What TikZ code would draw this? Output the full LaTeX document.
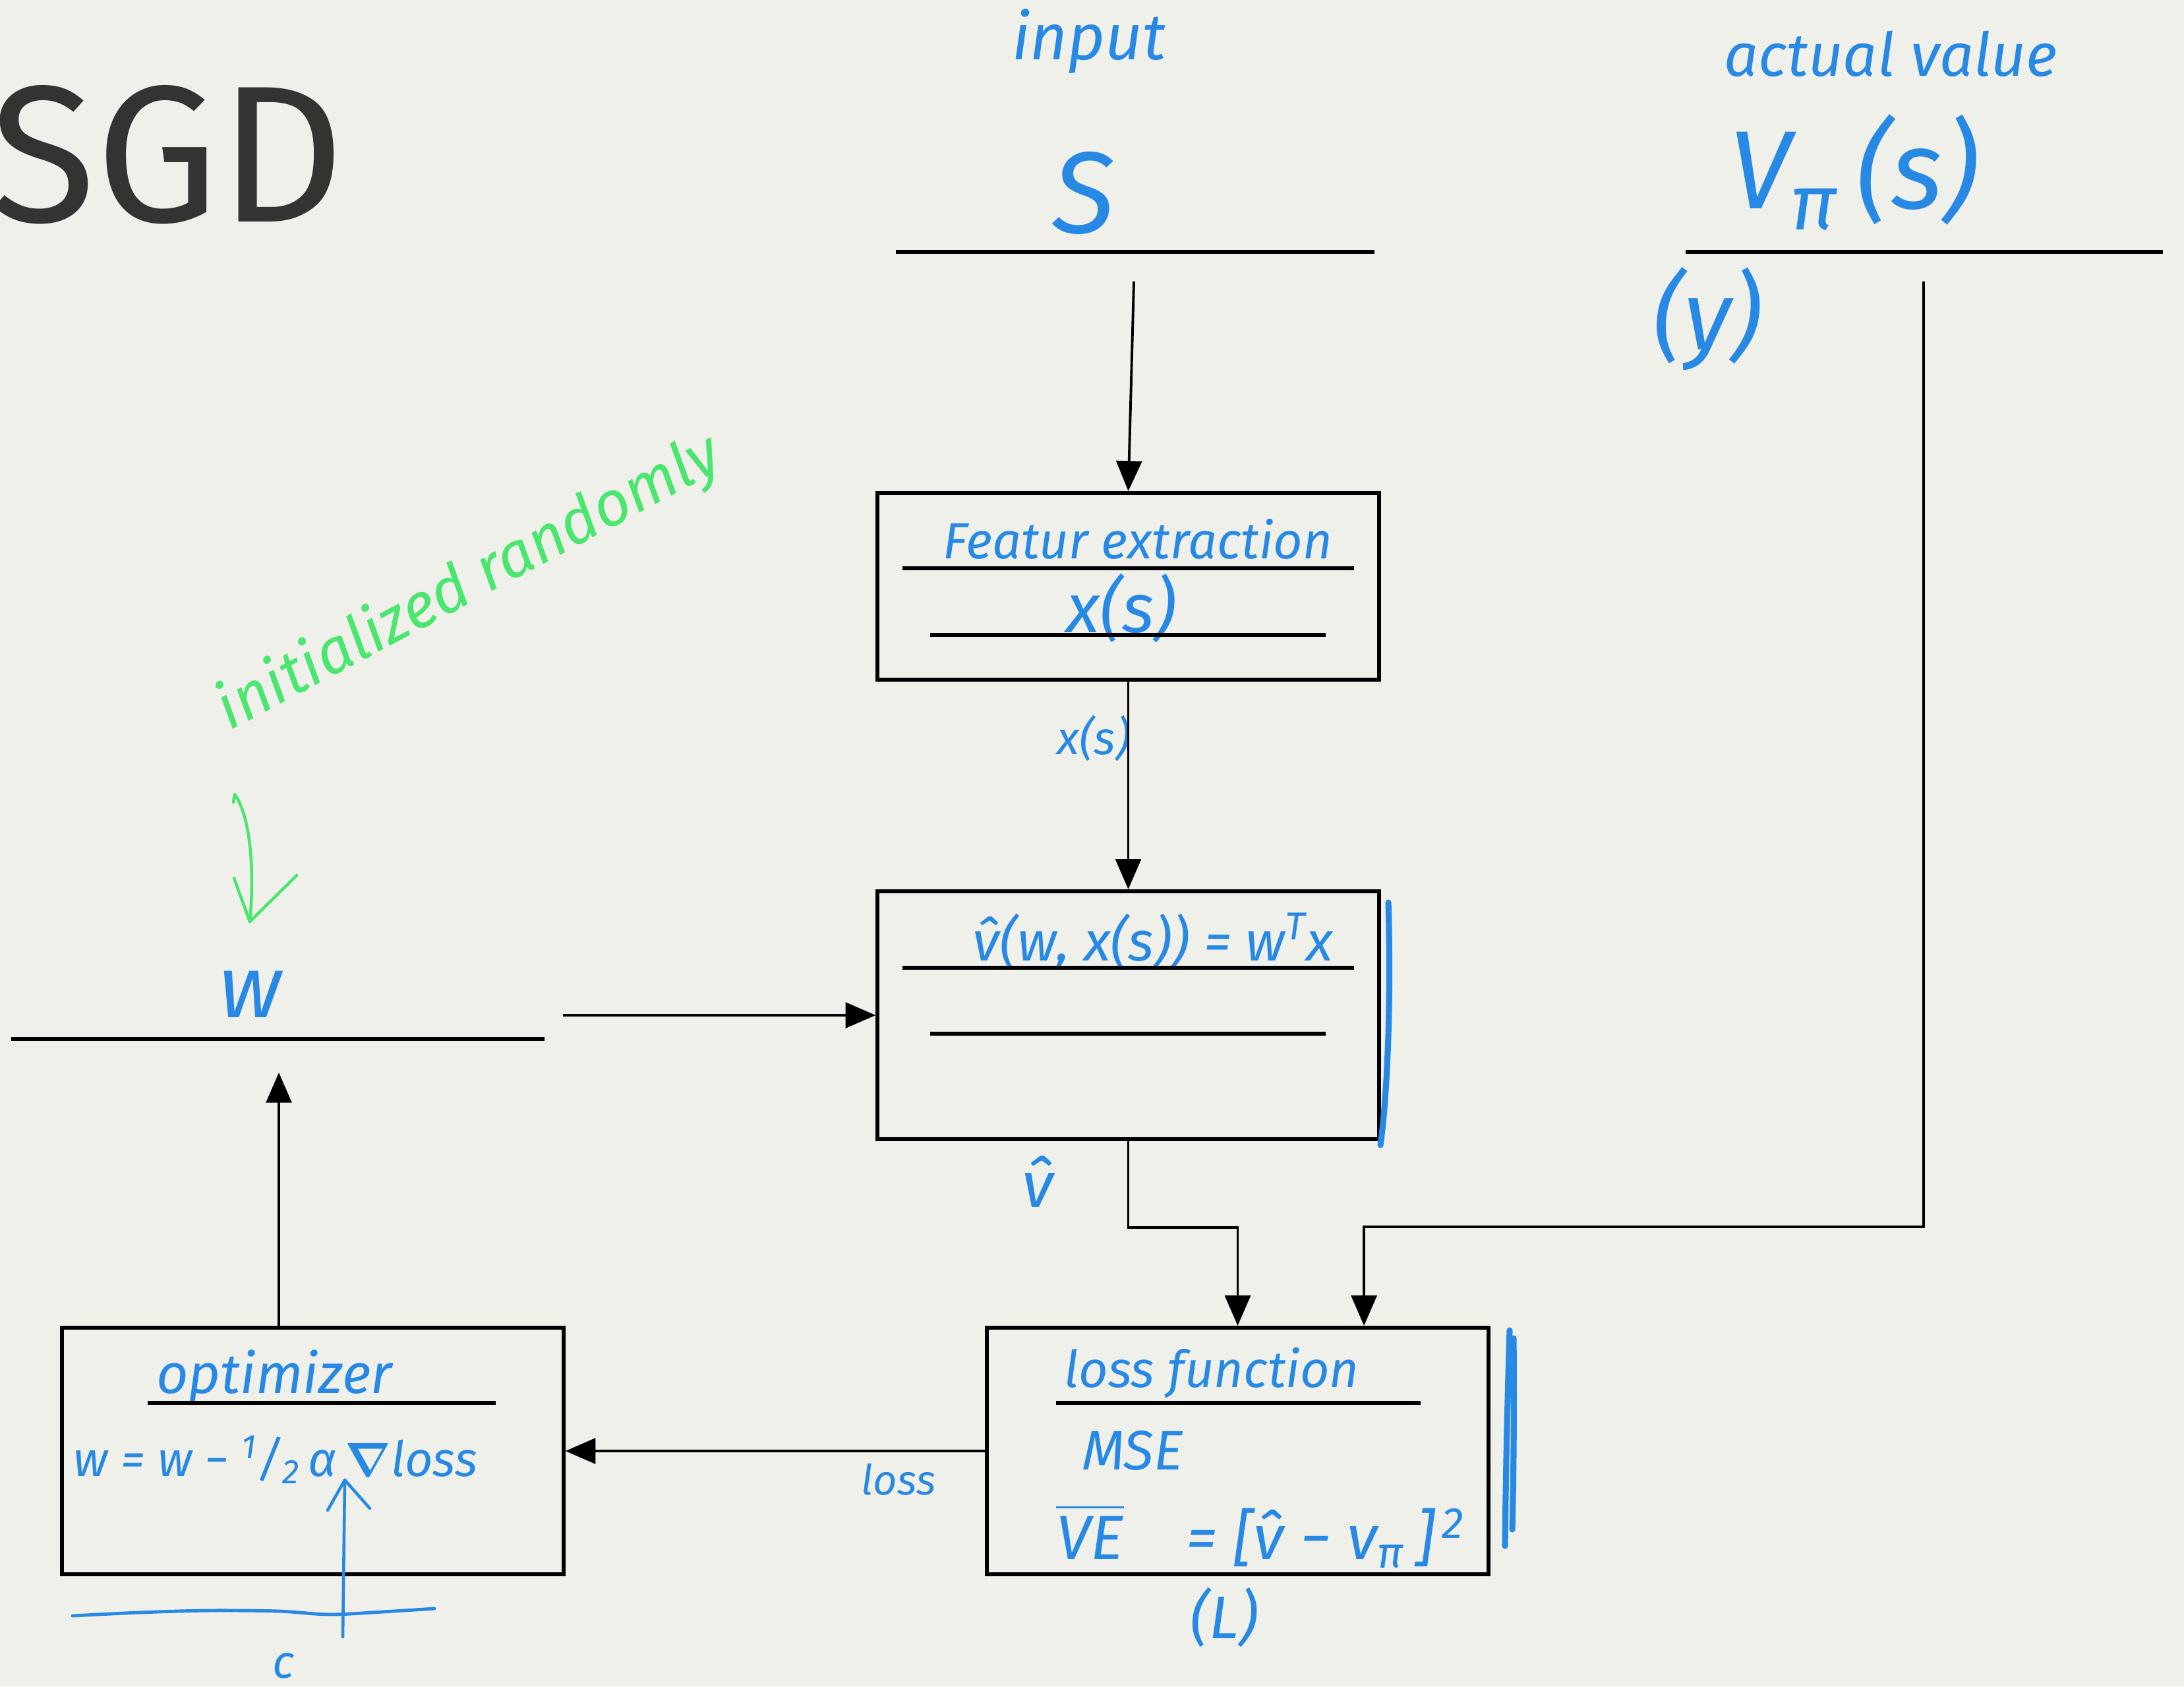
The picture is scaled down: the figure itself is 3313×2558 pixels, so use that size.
\documentclass[tikz,border=0pt]{standalone}
\usepackage{amsfonts, amssymb, amsmath}
\usepackage{fontspec}
\usepackage{xcolor}
\usepackage{tikz}
\usetikzlibrary{arrows.meta,calc}

\newfontfamily\hand{Fira Sans}
\newfontfamily\titlefont{Fira Sans}
\newcommand{\sz}[1]{\fontsize{#1}{#1}\selectfont}

\definecolor{paper}{RGB}{239,240,234}
\definecolor{pen}{RGB}{40,137,228}
\definecolor{marker}{RGB}{74,230,112}
\definecolor{ink}{RGB}{51,51,51}

\begin{document}
\begin{tikzpicture}[x=0.01cm,y=-0.01cm,
        box/.style={draw, line width=1.7pt, minimum width=7.6cm, minimum height=3.74cm, inner sep=0pt},
        conn/.style={line width=1.1pt, -{Triangle[length=13pt,width=11pt]}},
        rule/.style={line width=1.5pt},
        note/.style={text=pen, font=\hand\itshape, inner sep=0pt},
        scrib/.style={draw=pen, line width=2.6pt, line cap=round}]
        \useasboundingbox (0,0) rectangle (3313,2558);
        \fill[paper] (0,0) rectangle (3313,2558);
        \node[anchor=west, inner sep=0pt, text=ink, font=\titlefont\sz{84pt}] (title) at (-16,235) {SGD};

        \node[note, font=\hand\itshape\sz{28pt}] (inlbl) at (1652,63) {input};
        \node[note, font=\hand\itshape\sz{50pt}] (state) at (1644,293) {S};
        \draw[rule] (1359,382) -- (2085,382);
        \coordinate (sin) at (1720,427);

        \node[note, font=\hand\itshape\sz{26pt}] (actlbl) at (2868,82) {actual value};
        \node[note, font=\hand\itshape\sz{48pt}] (target) at (2812,262) {V\textsubscript{π}\,(s)};
        \draw[rule] (2557,382) -- (3281,382);
        \node[note, font=\hand\itshape\sz{42pt}] (ylbl) at (2590,484) {(y)};
        \coordinate (vout) at (2918,427);
        \coordinate (vbend) at (2918,1861);

        \node[box, minimum height=2.83cm] (feat) at (1711.5,889.5) {};
        \node[note, font=\hand\itshape\sz{22pt}] (featname) at (1726,818) {Featur extraction};
        \draw[rule] (1369,862) -- (2054,862);
        \node[note, font=\hand\itshape\sz{30pt}] (featx) at (1701,923) {x(s)};
        \draw[rule] (1411,963) -- (2011,963);
        \node[note, font=\hand\itshape\sz{20pt}] (xlbl) at (1659,1120) {x(s)};

        \node[box, minimum height=3.76cm] (val) at (1711.5,1540) {};
        \node[note, font=\hand\itshape\sz{24pt}] (valf) at (1749,1428) {\^v(w, x(s)) = w\textsuperscript{T}x};
        \draw[rule] (1369,1468) -- (2054,1468);
        \draw[rule] (1411,1568) -- (2011,1568);
        \draw[scrib] (2106,1369) .. controls (2110,1500) and (2106,1650) .. (2094,1737);
        \node[note, font=\hand\itshape\sz{28pt}] (vhat) at (1574,1792) {\^v};

        \draw[rule] (17,1576) -- (826,1576);
        \node[note, font=\hand\itshape\sz{38pt}] (wlbl) at (380,1508) {w};
        \coordinate (wout) at (854,1540);
        \coordinate (wup) at (423,1627);

        \node[text=marker, font=\hand\itshape\sz{27pt}, rotate=28, inner sep=0pt] (init) at (712,885) {initialized randomly};
        \draw[marker, line width=1.3pt, line cap=round, line join=round]
            (354,1217) -- (356,1205) .. controls (375,1230) and (388,1300) .. (379,1398);
        \draw[marker, line width=1.3pt, line cap=round, line join=round]
            (355,1332) -- (379,1398) -- (450,1328);

        \node[box] (opt) at (474.5,2201) {};
        \node[note, font=\hand\itshape\sz{24pt}] (optname) at (416,2090) {optimizer};
        \draw[rule] (224,2128) -- (752,2128);
        \node[note, font=\hand\itshape\sz{21pt}] (optf) at (418,2214)
            {w = w − \textsuperscript{1}/\textsubscript{2}\,α\,$\boldsymbol{\nabla}$loss};
        \coordinate (cin) at (520,2483);
        \coordinate (alphaup) at (523,2245);
        \draw[pen, line width=1.3pt, line cap=round, line join=round] (cin) -- (alphaup);
        \draw[pen, line width=1.3pt, line cap=round, line join=round] (497,2291) -- (alphaup) -- (561,2288);
        \draw[pen, line width=1.4pt, line cap=round] plot[smooth] coordinates
            {(110,2451) (211,2446) (317,2443) (423,2444) (500,2449) (580,2445) (659,2440)};
        \node[note, font=\hand\itshape\sz{20pt}] (clbl) at (430,2527) {c};

        \node[box] (loss) at (1877.5,2201) {};
        \node[note, font=\hand\itshape\sz{22pt}] (lossname) at (1838,2083) {loss function};
        \draw[rule] (1602,2128) -- (2155,2128);
        \node[note, font=\hand\itshape\sz{24pt}] (mse) at (1718,2200) {MSE};
        \node[note, font=\hand\itshape\sz{27pt}] (ve) at (1912,2330)
            {$\overline{\mbox{\hand\itshape VE}}$\quad = [\^v − v\textsubscript{π}\,]\textsuperscript{\,2}};
        \node[note, font=\hand\itshape\sz{26pt}] (llbl) at (1857,2453) {(L)};
        \draw[scrib] (2290,2018) .. controls (2286,2150) and (2284,2250) .. (2283,2345);
        \draw[scrib] (2296,2030) .. controls (2297,2150) and (2296,2230) .. (2294,2320);
        \node[note, font=\hand\itshape\sz{18pt}] (losslbl) at (1363,2244) {loss};
        \coordinate (lossin) at ($(loss.north west)!0.75!(loss.north east)$);

        \draw[conn] (sin) -- (feat.north);
        \draw[conn] (feat.south) -- (val.north);
        \draw[conn] (wout) -- (val.west);
        \draw[conn] (val.south) -- ++(0,131) -| (loss.north);
        \draw[conn] (vout) -- (vbend) -| (lossin);
        \draw[conn] (loss.west) -- (opt.east);
        \draw[conn] (opt.north -| wup) -- (wup);
    \end{tikzpicture}
\end{document}
